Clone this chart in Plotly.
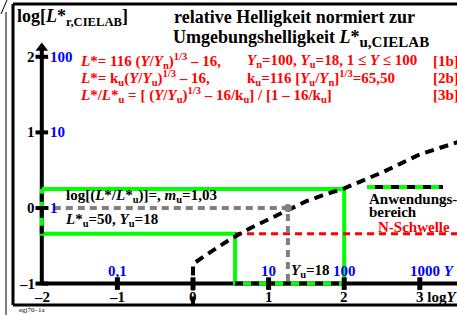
import plotly.graph_objects as go
import numpy as np

W, H = 457, 315
X0, Y0, S = 193.0, 208.0, 75.6


def dx(px):
    return (px - X0) / S


def dy(py):
    return (Y0 - py) / S


# ---------------- data ----------------
curve_logY = [0.0, 0.25, 0.5, 0.75, 1.0, 1.25, 1.5, 1.75, 2.0, 2.5, 3.0, 3.5]
curve_logL = [-0.74, -0.57, -0.41, -0.27, -0.15, -0.02, 0.09, 0.18, 0.26, 0.47, 0.71, 0.87]
drop_logY = [0.0, 0.0]
drop_logL = [-1.29, -0.74]

x_ticks = [-2, -1, 0, 1, 2, 3]
x_tick_text = ["–2", "–1", "0", "1", "2"]
y_ticks = [-1, 0, 1, 2]
y_tick_text = ["–1", "0", "1", "2"]
y_blue_vals = [2, 1, 0]
y_blue_text = ["100", "10", "1"]
x_blue_vals = [-1, 1, 2]
x_blue_text = ["0,1", "10", "100"]

Yu = 18
Lu = 50
log_Yu = float(np.log10(Yu))
green_lo = (0.556, -0.34)
green_hi = (2.0, 0.25)
n_threshold = -0.34

FONT = "Liberation Serif, Times New Roman, serif"
RED = "#ff0000"
BLUE = "#0000ff"
GREEN = "#00ff00"
GRAY = "#808080"
FS = 15

xmin, xmax = dx(0), dx(W)
ymin, ymax = dy(H), dy(0)

fig = go.Figure()


def line(xs, ys, color, width, dash="solid"):
    fig.add_trace(go.Scatter(x=xs, y=ys, mode="lines",
                             line=dict(color=color, width=width, dash=dash),
                             hoverinfo="skip", showlegend=False))


# axes
line([-2, -2], [-1, dy(50)], "black", 4)
line([-2, xmax], [-1, -1], "black", 4)

# green application range
gx0, gy0 = green_lo
gx1, gy1 = green_hi
line([-2, gx1, gx1, gx0, gx0, -2, -2], [gy1, gy1, -1, -1, gy0, gy0, gy1], GREEN, 4)
# black dashes on green along axes
line([-2, -2], [gy0, gy1], "black", 4, "8px,8px")
line([gx0, gx1], [-1, -1], "black", 4, "8px,8px")

# red threshold
line([gx0, xmax], [n_threshold, n_threshold], RED, 3, "7px,5px")

# gray Yu lines
line([-2, log_Yu, log_Yu], [0, 0, -1], GRAY, 4, "7px,5px")

# curve
line(drop_logY + curve_logY[1:], drop_logL + curve_logL[1:], "black", 4, "9px,6px")

# gray dot
fig.add_trace(go.Scatter(x=[log_Yu], y=[0], mode="markers",
                         marker=dict(color=GRAY, size=8), hoverinfo="skip", showlegend=False))

# ticks
fig.add_trace(go.Scatter(x=x_ticks[1:], y=[-1] * 5, mode="markers",
                         marker=dict(symbol="line-ns", size=9, line=dict(width=5, color="black")),
                         hoverinfo="skip", showlegend=False))
fig.add_trace(go.Scatter(x=[-2] * 4, y=y_ticks, mode="markers",
                         marker=dict(symbol="line-ew", size=9, line=dict(width=4, color="black")),
                         hoverinfo="skip", showlegend=False))
# arrow head
fig.add_trace(go.Scatter(x=[-2], y=[dy(48)], mode="markers",
                         marker=dict(symbol="triangle-up", size=11, color="black"),
                         hoverinfo="skip", showlegend=False))

# legend line
line([dx(367), dx(443)], [dy(187), dy(187)], "black", 4)
line([dx(367), dx(443)], [dy(187), dy(187)], GREEN, 4, "8px,8px")

ann = []


def text(px, py, s, size=FS, color="black", anchor="left", ya="middle"):
    ann.append(dict(x=dx(px), y=dy(py), text=s, showarrow=False, xanchor=anchor, yanchor=ya,
                    font=dict(family=FONT, size=size, color=color)))


# titles
text(15, 17, "<b>log[<i>L</i>*<sub>r,CIELAB</sub>]</b>", 18)
text(294, 17, "<b>relative Helligkeit normiert zur</b>", 18, anchor="center")
text(171, 38, "<b>Umgebungshelligkeit <i>L</i>*<sub><span style='font-size:15px'>u,CIELAB</span></sub></b>", 18)

# red formulas
text(78, 61, "<b><i>L</i>*= 116 (<i>Y</i>/<i>Y</i><sub>n</sub>)<sup>1/3</sup> – 16,</b>", FS, RED)
text(245, 61, "<b><i>Y</i><sub>n</sub>=100, <i>Y</i><sub>u</sub>=18, 1 ≤ <i>Y</i> ≤ 100</b>", FS, RED)
text(431, 61, "<b>[1b]</b>", FS, RED)
text(78, 78, "<b><i>L</i>*= k<sub>u</sub>(<i>Y</i>/<i>Y</i><sub>u</sub>)<sup>1/3</sup> – 16,</b>", FS, RED)
text(245, 78, "<b>k<sub>u</sub>=116 [<i>Y</i><sub>u</sub>/<i>Y</i><sub>n</sub>]<sup>1/3</sup>=65,50</b>", FS, RED)
text(431, 78, "<b>[2b]</b>", FS, RED)
text(78, 95, "<b><i>L</i>*/<i>L</i>*<sub>u</sub> = [ (<i>Y</i>/<i>Y</i><sub>u</sub>)<sup>1/3</sup> – 16/k<sub>u</sub>] / [1 – 16/k<sub>u</sub>]</b>", FS, RED)
text(431, 95, "<b>[3b]</b>", FS, RED)

# y tick labels
for v, s in zip(y_ticks, y_tick_text):
    ann.append(dict(x=dx(37), y=v, text="<b>%s</b>" % s, showarrow=False, xanchor="right",
                    yanchor="middle", font=dict(family=FONT, size=FS, color="black")))
for v, s in zip(y_blue_vals, y_blue_text):
    ann.append(dict(x=dx(48), y=v, text="<b>%s</b>" % s, showarrow=False, xanchor="left",
                    yanchor="middle", font=dict(family=FONT, size=FS, color=BLUE)))
# x tick labels
for v, s in zip(x_ticks[:5], x_tick_text):
    ann.append(dict(x=v, y=dy(297), text="<b>%s</b>" % s, showarrow=False, xanchor="center",
                    yanchor="middle", font=dict(family=FONT, size=FS, color="black")))
text(414, 297, "<b>3 log<i>Y</i></b>", FS)
for v, s in zip(x_blue_vals, x_blue_text):
    ann.append(dict(x=v, y=dy(271), text="<b>%s</b>" % s, showarrow=False, xanchor="center",
                    yanchor="middle", font=dict(family=FONT, size=FS, color=BLUE)))
text(408, 271, "<b>1000 <i>Y</i></b>", FS, BLUE)
text(289, 271, "<b><i>Y</i><sub>u</sub>=18</b>", FS)

# box labels
text(64, 196, "<b>log[(<i>L</i>*/<i>L</i>*<sub>u</sub>)]=, <i>m</i><sub>u</sub>=1,03</b>", FS)
text(63, 220, "<b><i>L</i>*<sub>u</sub>=50, <i>Y</i><sub>u</sub>=18</b>", FS)

# legend texts
text(367, 199, "<b>Anwendungs-</b>", FS)
text(367, 212, "<b>bereich</b>", FS)
text(452, 227, "<b>N-Schwelle</b>", FS, RED, anchor="right")

# signature
text(17, 310, "egj70–1a", 7)

shapes = [
    dict(type="line", xref="paper", yref="paper", x0=13 / W, x1=1.0,
         y0=1 - 4 / H, y1=1 - 4 / H, line=dict(color="black", width=3)),
    dict(type="line", xref="paper", yref="paper", x0=13 / W, x1=1.0,
         y0=1 - 305 / H, y1=1 - 305 / H, line=dict(color="black", width=3)),
    dict(type="line", xref="paper", yref="paper", x0=13 / W, x1=13 / W,
         y0=1 - 305 / H, y1=1 - 4 / H, line=dict(color="black", width=3)),
    dict(type="line", xref="paper", yref="paper", x0=6 / W, x1=6 / W,
         y0=1 - 12 / H, y1=0, line=dict(color="black", width=1)),
    dict(type="line", xref="paper", yref="paper", x0=1 / W, x1=7 / W,
         y0=1 - 14 / H, y1=1, line=dict(color="black", width=1)),
]

fig.update_layout(
    width=W, height=H, margin=dict(l=0, r=0, t=0, b=0),
    paper_bgcolor="white", plot_bgcolor="white",
    xaxis=dict(range=[xmin, xmax], visible=False, fixedrange=True),
    yaxis=dict(range=[ymin, ymax], visible=False, fixedrange=True),
    annotations=ann, shapes=shapes, showlegend=False,
)
fig.write_html("out.html", config={"displayModeBar": False},
               post_script="document.body.style.margin='0px';"
                           "document.body.style.overflow='hidden';"
                           "document.documentElement.style.overflow='hidden';"
                           "document.documentElement.style.scrollbarWidth='none';"
                           "window.scrollTo(0,0);")
